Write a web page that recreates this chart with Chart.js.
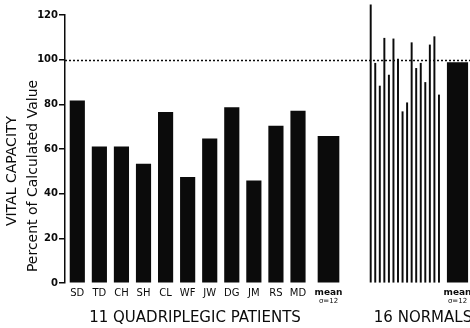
<!DOCTYPE html>
<html>
<head>
<meta charset="utf-8">
<script src="https://cdn.jsdelivr.net/npm/chart.js@4.4.1/dist/chart.umd.min.js"></script>
<style>
  body { margin: 0; background: #fff; }
</style>
</head>
<body>
<canvas id="vc" width="470" height="328"></canvas>
<script>
// data (percent of calculated vital capacity)
const patientLabels = ["SD", "TD", "CH", "SH", "CL", "WF", "JW", "DG", "JM", "RS", "MD"];
const patientValues = [81.6, 61, 61, 53.3, 76.4, 47.3, 64.5, 78.5, 45.8, 70.3, 77];
const patientMean = 65.7;
const normalValues = [124.5, 98.4, 88.2, 109.6, 93.1, 109.3, 100.3, 76.7, 80.7, 107.6, 96.1, 98.4, 89.8, 106.6, 110.3, 84.2];
const normalMean = 98.7;
const meanLabel = "mean";
const sigmaLabel = "σ=12";
const refLine = 100;
const groupTitles = ["11 QUADRIPLEGIC PATIENTS", "16 NORMALS"];
const yTitles = ["VITAL CAPACITY", "Percent of Calculated Value"];

// x positions on a linear axis (units = px from the y axis)
const patX = i => 12.3 + 22.07 * i;
const patMeanX = 263.5;
const normX = j => 305.7 + 4.55 * j;
const normMeanX = 392.5;

const xTickPos = patientLabels.map((_, i) => patX(i)).concat([patMeanX, normMeanX]);
const xTickText = patientLabels.concat([meanLabel, meanLabel]);

const black = "#0b0b0b";
const FONT = "'DejaVu Sans', sans-serif";

const overlay = {
  id: "overlay",
  afterDatasetsDraw(chart) {
    const c = chart.ctx, y = chart.scales.y, area = chart.chartArea;
    const py = Math.round(y.getPixelForValue(refLine)) + 0.5;
    c.save();
    c.strokeStyle = black;
    c.lineWidth = 1.5;
    c.setLineDash([2, 2]);
    c.beginPath();
    c.moveTo(area.left, py);
    c.lineTo(chart.width, py);
    c.stroke();
    c.restore();
  },
  afterDraw(chart) {
    const c = chart.ctx, x = chart.scales.x;
    c.save();
    c.fillStyle = black;
    c.textAlign = "center";
    c.textBaseline = "middle";
    c.font = "7px " + FONT;
    [patMeanX, normMeanX].forEach(v => c.fillText(sigmaLabel, x.getPixelForValue(v), 301));
    c.font = "15px " + FONT;
    c.fillText(groupTitles[0], 195, 318);
    c.fillText(groupTitles[1], 423, 318);
    c.font = "14px " + FONT;
    c.translate(12, 171);
    c.rotate(-Math.PI / 2);
    c.fillText(yTitles[0], 0, 0);
    c.rotate(Math.PI / 2);
    c.translate(21, 5);
    c.rotate(-Math.PI / 2);
    c.fillText(yTitles[1], 0, 0);
    c.restore();
  }
};

const barBase = { backgroundColor: black, borderWidth: 0, grouped: false };

new Chart(document.getElementById("vc"), {
  type: "bar",
  data: {
    datasets: [
      Object.assign({ label: "patients", data: patientValues.map((v, i) => ({ x: patX(i), y: v })), barThickness: 14.5 }, barBase),
      Object.assign({ label: "patient mean", data: [{ x: patMeanX, y: patientMean }], barThickness: 21 }, barBase),
      Object.assign({ label: "normals", data: normalValues.map((v, j) => ({ x: normX(j), y: v })), barThickness: 1.3, clip: false }, barBase),
      Object.assign({ label: "normal mean", data: [{ x: normMeanX, y: normalMean }], barThickness: 20.5 }, barBase)
    ]
  },
  options: {
    responsive: false,
    animation: false,
    layout: { padding: { top: 15, left: 0, right: 0, bottom: 0 } },
    plugins: { legend: { display: false }, tooltip: { enabled: false } },
    scales: {
      x: {
        type: "linear",
        min: 0,
        max: 405,
        offset: false,
        grid: { display: false, drawTicks: false },
        border: { display: false },
        afterBuildTicks: s => { s.ticks = xTickPos.map(v => ({ value: v })); },
        afterFit: s => { s.height = 45; s.paddingLeft = 0; s.paddingRight = 0; },
        ticks: {
          autoSkip: false,
          maxRotation: 0,
          minRotation: 0,
          padding: 4,
          color: black,
          font: ctx => (ctx.tick && ctx.tick.label === meanLabel)
            ? { family: FONT, size: 9, weight: "bold" }
            : { family: FONT, size: 10 },
          callback: (v, i) => xTickText[i]
        }
      },
      y: {
        min: 0,
        max: 120,
        afterFit: s => { s.width = 65; },
        grid: { drawOnChartArea: false, drawTicks: true, tickLength: 6, color: black, lineWidth: 1.5 },
        border: { display: true, color: black, width: 1.5 },
        ticks: {
          stepSize: 20,
          padding: 1,
          color: black,
          font: { family: FONT, size: 10, weight: "bold" }
        }
      }
    }
  },
  plugins: [overlay]
});
</script>
</body>
</html>
